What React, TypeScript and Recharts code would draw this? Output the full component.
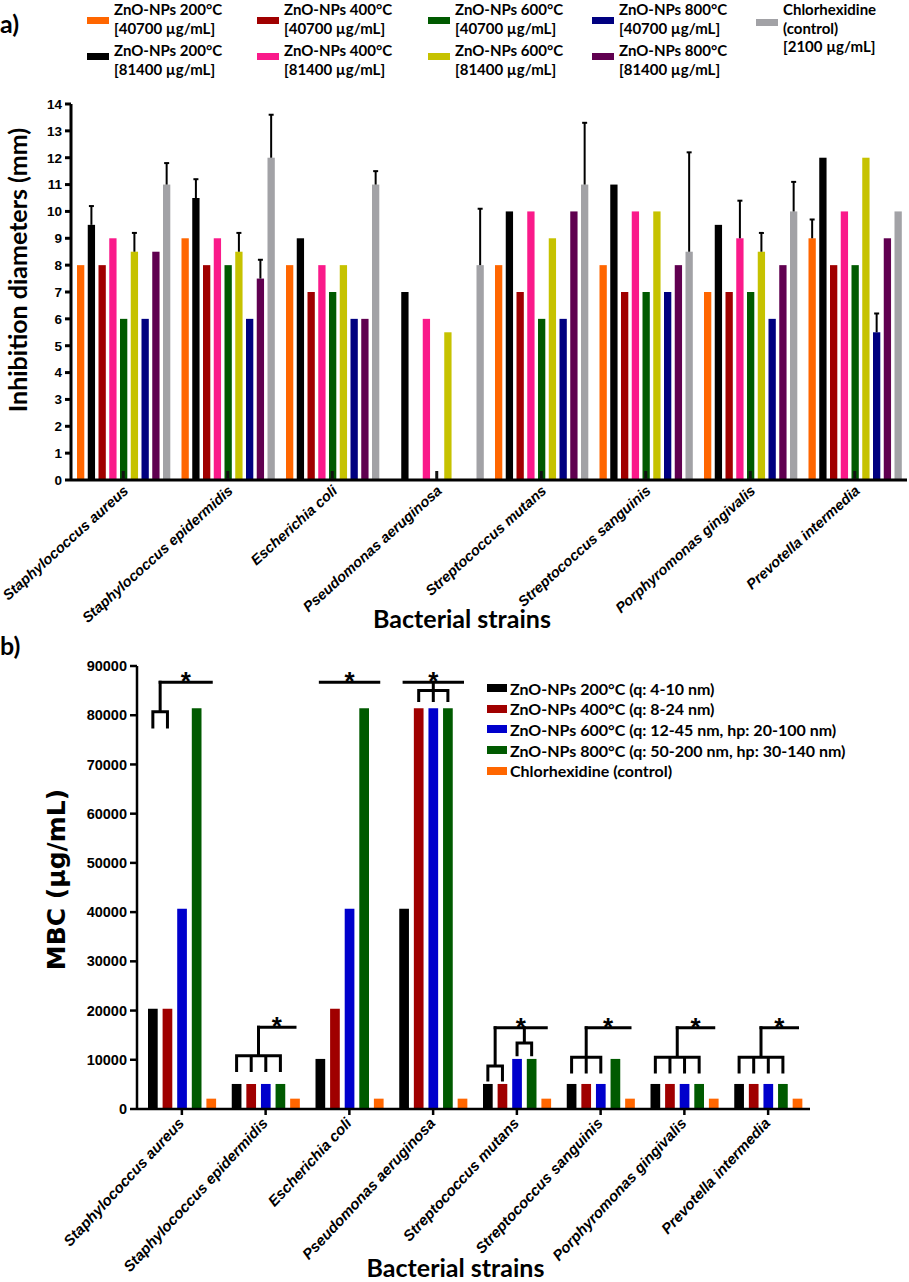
import React from "react";
import { BarChart, Bar, XAxis, YAxis, Label } from "recharts";

const CALIBRI = "Lato, 'Open Sans', sans-serif";
const ARIAL = "'Liberation Sans', Arial, sans-serif";
const VERDANA = "'DejaVu Sans', Verdana, sans-serif";

const STRAINS = [
  "Staphylococcus aureus",
  "Staphylococcus epidermidis",
  "Escherichia coli",
  "Pseudomonas aeruginosa",
  "Streptococcus mutans",
  "Streptococcus sanguinis",
  "Porphyromonas gingivalis",
  "Prevotella intermedia",
];

// ---- a) inhibition zone diameters (mm) ----
const ZONE_TICKS = [0, 1, 2, 3, 4, 5, 6, 7, 8, 9, 10, 11, 12, 13, 14];
const Z200_LOW = [8, 9, 8, 0, 8, 8, 7, 9];
const Z200_HIGH = [9.5, 10.5, 9, 7, 10, 11, 9.5, 12];
const Z400_LOW = [8, 8, 7, 0, 7, 7, 7, 8];
const Z400_HIGH = [9, 9, 8, 6, 10, 10, 9, 10];
const Z600_LOW = [6, 8, 7, 0, 6, 7, 7, 8];
const Z600_HIGH = [8.5, 8.5, 8, 5.5, 9, 10, 8.5, 12];
const Z800_LOW = [6, 6, 6, 0, 6, 7, 6, 5.5];
const Z800_HIGH = [8.5, 7.5, 6, 0, 10, 8, 8, 9];
const Z_CHX = [11, 12, 11, 8, 11, 8.5, 10, 10];

// upper whiskers (SD)
const E200_LOW = [0, 0, 0, 0, 0, 0, 0, 0.7];
const E200_HIGH = [0.7, 0.7, 0, 0, 0, 0, 0, 0];
const E400_LOW = [0, 0, 0, 0, 0, 0, 0, 0];
const E400_HIGH = [0, 0, 0, 0, 0, 0, 1.4, 0];
const E600_LOW = [0, 0, 0, 0, 0, 0, 0, 0];
const E600_HIGH = [0.7, 0.7, 0, 0, 0, 0, 0.7, 0];
const E800_LOW = [0, 0, 0, 0, 0, 0, 0, 0.7];
const E800_HIGH = [0, 0.7, 0, 0, 0, 0, 0, 0];
const E_CHX = [0.8, 1.6, 0.5, 2.1, 2.3, 3.7, 1.1, 0];

// ---- b) MBC (µg/mL) ----
const MBC_TICKS = [0, 10000, 20000, 30000, 40000, 50000, 60000, 70000, 80000, 90000];
const MBC_200 = [20350, 5087.5, 10175, 40700, 5087.5, 5087.5, 5087.5, 5087.5];
const MBC_400 = [20350, 5087.5, 20350, 81400, 5087.5, 5087.5, 5087.5, 5087.5];
const MBC_600 = [40700, 5087.5, 40700, 81400, 10175, 5087.5, 5087.5, 5087.5];
const MBC_800 = [81400, 5087.5, 81400, 81400, 10175, 10175, 5087.5, 5087.5];
const MBC_CHX = [2100, 2100, 2100, 2100, 2100, 2100, 2100, 2100];

// significance brackets per group (levels in µg/mL, slots 0-4 follow bar order)
const BRACKET_LINE = [86700, 16600, 86700, 86700, 16500, 16500, 16500, 16500];
const BRACKET_START = [0.5, 1.5, 0, 0, 0.5, 1, 1.5, 1.5];
const COMB_SLOTS = [
  [[0, 1]],
  [[0, 1, 2, 3]],
  [],
  [[1, 2, 3]],
  [[0, 1], [2, 3]],
  [[0, 1, 2]],
  [[0, 1, 2, 3]],
  [[0, 1, 2, 3]],
];
const COMB_TOP = [[80700], [10800], [], [85000], [8750, 13400], [10500], [10500], [10500]];
const COMB_FOOT = [[77600], [7800], [], [83000], [5900, 11000], [7500], [7500], [7500]];

const ZONE_SERIES = [
  { key: "z200l", name: "ZnO-NPs 200°C", dose: "[40700 µg/mL]", color: "#ff6600", values: Z200_LOW, errors: E200_LOW },
  { key: "z200h", name: "ZnO-NPs 200°C", dose: "[81400 µg/mL]", color: "#000000", values: Z200_HIGH, errors: E200_HIGH },
  { key: "z400l", name: "ZnO-NPs 400°C", dose: "[40700 µg/mL]", color: "#a00000", values: Z400_LOW, errors: E400_LOW },
  { key: "z400h", name: "ZnO-NPs 400°C", dose: "[81400 µg/mL]", color: "#fa1a8a", values: Z400_HIGH, errors: E400_HIGH },
  { key: "z600l", name: "ZnO-NPs 600°C", dose: "[40700 µg/mL]", color: "#005a00", values: Z600_LOW, errors: E600_LOW },
  { key: "z600h", name: "ZnO-NPs 600°C", dose: "[81400 µg/mL]", color: "#c6c200", values: Z600_HIGH, errors: E600_HIGH },
  { key: "z800l", name: "ZnO-NPs 800°C", dose: "[40700 µg/mL]", color: "#000080", values: Z800_LOW, errors: E800_LOW },
  { key: "z800h", name: "ZnO-NPs 800°C", dose: "[81400 µg/mL]", color: "#600050", values: Z800_HIGH, errors: E800_HIGH },
  { key: "zchx", name: "Chlorhexidine", dose: "(control)\n[2100 µg/mL]", color: "#a2a2a6", values: Z_CHX, errors: E_CHX },
];

const MBC_SERIES = [
  { key: "m200", name: "ZnO-NPs 200°C (q: 4-10 nm)", color: "#000000", values: MBC_200 },
  { key: "m400", name: "ZnO-NPs 400°C (q: 8-24 nm)", color: "#a00000", values: MBC_400 },
  { key: "m600", name: "ZnO-NPs 600°C (q: 12-45 nm, hp: 20-100 nm)", color: "#0000cc", values: MBC_600 },
  { key: "m800", name: "ZnO-NPs 800°C (q: 50-200 nm, hp: 30-140 nm)", color: "#005a00", values: MBC_800 },
  { key: "mchx", name: "Chlorhexidine (control)", color: "#ff6600", values: MBC_CHX },
];

const zoneRows = STRAINS.map((strain, i) => {
  const row: Record<string, string | number> = { strain };
  ZONE_SERIES.forEach((s) => {
    row[s.key] = s.values[i];
    row[s.key + "Err"] = s.errors[i];
  });
  return row;
});

const mbcRows = STRAINS.map((strain, i) => {
  const row: Record<string, string | number> = { strain };
  MBC_SERIES.forEach((s) => {
    row[s.key] = s.values[i];
  });
  return row;
});

const ZONE_BAR_SIZE = 7.3;
const ZONE_BAR_GAP = 3.45;
const MBC_BAR_SIZE = 9.7;
const MBC_BAR_GAP = 4.9;

// bar with an upper SD whisker
const zoneBar = (key: string) => (props: any) => {
  const { x, y, width, height, fill, payload } = props;
  const value = Number(payload[key]);
  const err = Number(payload[key + "Err"]);
  const cx = x + width / 2;
  let whisker = null;
  if (err > 0 && value > 0) {
    const top = y - (err * height) / value;
    whisker = (
      <g stroke="#000" strokeWidth={2}>
        <line x1={cx} x2={cx} y1={y} y2={top} />
        <line x1={cx - 2.5} x2={cx + 2.5} y1={top} y2={top} />
      </g>
    );
  }
  return (
    <g>
      <rect x={x} y={y} width={width} height={Math.max(height, 0)} fill={fill} />
      {whisker}
    </g>
  );
};

// last MBC bar also carries the significance brackets of its group
const mbcLastBar = (props: any) => {
  const { x, y, width, height, fill, index, payload } = props;
  const ppu = height / Number(payload.mchx);
  const base = y + height;
  const yAt = (v: number) => base - v * ppu;
  const step = width + MBC_BAR_GAP;
  const slotX = (s: number) => x + width / 2 - (4 - s) * step;
  const lineY = yAt(BRACKET_LINE[index]);
  const startX = slotX(BRACKET_START[index]);
  const endX = slotX(4);
  const parts: React.ReactNode[] = [];
  COMB_SLOTS[index].forEach((slots, c) => {
    const top = yAt(COMB_TOP[index][c]);
    const foot = yAt(COMB_FOOT[index][c]);
    const first = slotX(slots[0]);
    const last = slotX(slots[slots.length - 1]);
    const mid = (first + last) / 2;
    let d = `M${first},${top} H${last} M${mid},${top} V${lineY}`;
    slots.forEach((s) => {
      d += ` M${slotX(s)},${top} V${foot}`;
    });
    parts.push(<path key={c} d={d} />);
  });
  return (
    <g>
      <rect x={x} y={y} width={width} height={Math.max(height, 0)} fill={fill} />
      <g stroke="#000" strokeWidth={3} fill="none" strokeLinecap="square">
        <path d={`M${startX},${lineY} H${endX}`} />
        {parts}
      </g>
      <text
        x={(startX + endX) / 2}
        y={lineY + 8}
        textAnchor="middle"
        fontFamily={ARIAL}
        fontWeight={700}
        fontSize={26}
        fill="#000"
      >
        *
      </text>
    </g>
  );
};

const ZoneTick = (props: any) => {
  const { x, y, payload } = props;
  const ax = x + 6;
  const ay = y + 12;
  return (
    <g>
      <line x1={x} x2={x} y1={y - 1} y2={y - 9} stroke="#111" strokeWidth={3} />
      <text
        x={ax}
        y={ay}
        transform={`rotate(-42 ${ax} ${ay})`}
        textAnchor="end"
        fontFamily={ARIAL}
        fontSize={14.5}
        fontWeight={700}
        fontStyle="italic"
        fill="#000"
      >
        {payload.value}
      </text>
    </g>
  );
};

const MbcTick = (props: any) => {
  const { x, y, payload } = props;
  const ax = x + 3;
  const ay = y + 9;
  return (
    <text
      x={ax}
      y={ay}
      transform={`rotate(-47 ${ax} ${ay})`}
      textAnchor="end"
      fontFamily={ARIAL}
      fontSize={15}
      fontWeight={700}
      fontStyle="italic"
      fill="#000"
    >
      {payload.value}
    </text>
  );
};

const axisTickStyle = { fill: "#000", fontFamily: ARIAL, fontWeight: 700 };

// legend slots for panel a: [series index, left, top]
const ZONE_LEGEND: [number, number, number][] = [
  [0, 87, 0],
  [2, 257, 0],
  [4, 428, 0],
  [6, 592, 0],
  [8, 756, 0],
  [1, 87, 41],
  [3, 257, 41],
  [5, 428, 41],
  [7, 592, 41],
];

export default function App() {
  return (
    <div
      style={{
        position: "absolute",
        left: 0,
        top: 0,
        width: 909,
        height: 1282,
        background: "#fff",
        overflow: "hidden",
      }}
    >
      <div style={{ position: "absolute", left: 0, top: 8, font: `700 25px ${CALIBRI}` }}>a)</div>
      <div style={{ position: "absolute", left: 0, top: 630, font: `700 25px ${CALIBRI}` }}>b)</div>

      {ZONE_LEGEND.map(([si, left, top]) => {
        const s = ZONE_SERIES[si];
        const swatchTop = si === 8 ? 19 : top === 0 ? 17 : 12;
        return (
          <div
            key={s.key}
            style={{
              position: "absolute",
              left,
              top,
              paddingLeft: 27,
              whiteSpace: "pre",
              font: `700 15px/18.5px ${CALIBRI}`,
              color: "#000",
            }}
          >
            <div
              style={{
                position: "absolute",
                left: 0,
                top: swatchTop,
                width: 22,
                height: 7,
                background: s.color,
              }}
            />
            {s.name + "\n" + s.dose}
          </div>
        );
      })}

      <div style={{ position: "absolute", left: 0, top: 0 }}>
        <BarChart
          width={909}
          height={640}
          data={zoneRows}
          margin={{ top: 104, right: 2, left: 11, bottom: 0 }}
          barSize={ZONE_BAR_SIZE}
          barGap={ZONE_BAR_GAP}
        >
          <XAxis
            dataKey="strain"
            height={160}
            interval={0}
            tickLine={false}
            tickSize={0}
            tickMargin={0}
            axisLine={{ stroke: "#000", strokeWidth: 3 }}
            tick={(p: any) => <ZoneTick {...p} />}
          >
            <Label
              content={(p: any) => {
                const vb = p.viewBox;
                return (
                  <text
                    x={vb.x + vb.width / 2 - 27}
                    y={vb.y + 148}
                    textAnchor="middle"
                    fontFamily={CALIBRI}
                    fontWeight={700}
                    fontSize={25}
                    fill="#000"
                  >
                    Bacterial strains
                  </text>
                );
              }}
            />
          </XAxis>
          <YAxis
            domain={[0, 14]}
            ticks={ZONE_TICKS}
            interval={0}
            width={60}
            tickSize={6}
            tickMargin={3}
            axisLine={{ stroke: "#000", strokeWidth: 3 }}
            tickLine={{ stroke: "#000", strokeWidth: 3 }}
            tick={{ ...axisTickStyle, fontSize: 13.5 }}
          >
            <Label
              content={(p: any) => {
                const vb = p.viewBox;
                const cx = vb.x + 6;
                const cy = vb.y + vb.height / 2 - 22;
                return (
                  <text
                    x={cx}
                    y={cy}
                    transform={`rotate(-90 ${cx} ${cy})`}
                    textAnchor="middle"
                    dominantBaseline="central"
                    fontFamily={CALIBRI}
                    fontWeight={700}
                    fontSize={25}
                    fill="#000"
                  >
                    Inhibition diameters (mm)
                  </text>
                );
              }}
            />
          </YAxis>
          {ZONE_SERIES.map((s) => (
            <Bar
              key={s.key}
              dataKey={s.key}
              fill={s.color}
              isAnimationActive={false}
              shape={zoneBar(s.key)}
            />
          ))}
        </BarChart>
      </div>

      <div style={{ position: "absolute", left: 0, top: 640 }}>
        <BarChart
          width={909}
          height={642}
          data={mbcRows}
          margin={{ top: 26, right: 99, left: 65, bottom: 0 }}
          barSize={MBC_BAR_SIZE}
          barGap={MBC_BAR_GAP}
        >
          <XAxis
            dataKey="strain"
            height={173}
            interval={0}
            padding={{ left: 3, right: 0 }}
            tickSize={6}
            tickMargin={0}
            axisLine={{ stroke: "#000", strokeWidth: 2.5 }}
            tickLine={{ stroke: "#000", strokeWidth: 2.5 }}
            tick={(p: any) => <MbcTick {...p} />}
          >
            <Label
              content={(p: any) => {
                const vb = p.viewBox;
                return (
                  <text
                    x={vb.x + vb.width / 2 - 18}
                    y={vb.y + 168}
                    textAnchor="middle"
                    fontFamily={CALIBRI}
                    fontWeight={700}
                    fontSize={25}
                    fill="#000"
                  >
                    Bacterial strains
                  </text>
                );
              }}
            />
          </XAxis>
          <YAxis
            domain={[0, 90000]}
            ticks={MBC_TICKS}
            interval={0}
            width={72}
            tickSize={7}
            tickMargin={3}
            axisLine={{ stroke: "#000", strokeWidth: 2.5 }}
            tickLine={{ stroke: "#000", strokeWidth: 2.5 }}
            tick={{ ...axisTickStyle, fontSize: 14.5 }}
          >
            <Label
              content={(p: any) => {
                const vb = p.viewBox;
                const cx = vb.x - 9;
                const cy = vb.y + vb.height / 2 - 8;
                return (
                  <text
                    x={cx}
                    y={cy}
                    transform={`rotate(-90 ${cx} ${cy})`}
                    textAnchor="middle"
                    dominantBaseline="central"
                    fontFamily={VERDANA}
                    fontWeight={700}
                    fontSize={25}
                    fill="#000"
                  >
                    MBC (µg/mL)
                  </text>
                );
              }}
            />
          </YAxis>
          {MBC_SERIES.map((s, i) => (
            <Bar
              key={s.key}
              dataKey={s.key}
              fill={s.color}
              isAnimationActive={false}
              shape={i === MBC_SERIES.length - 1 ? mbcLastBar : undefined}
            />
          ))}
        </BarChart>
      </div>

      <div style={{ position: "absolute", left: 487, top: 678 }}>
        {MBC_SERIES.map((s) => (
          <div
            key={s.key}
            style={{ display: "flex", alignItems: "center", height: 20.6 }}
          >
            <div style={{ width: 20, height: 8, background: s.color, marginRight: 3 }} />
            <span style={{ font: `700 16px ${CALIBRI}`, color: "#000", whiteSpace: "nowrap" }}>
              {s.name}
            </span>
          </div>
        ))}
      </div>
    </div>
  );
}
